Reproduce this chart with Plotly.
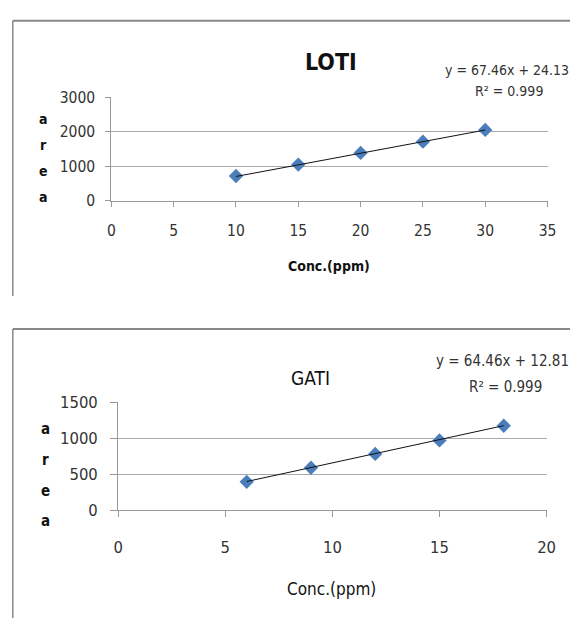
import plotly.graph_objects as go

# ---- data ----
loti_conc = [10, 15, 20, 25, 30]
loti_area = [712, 1045, 1382, 1710, 2052]
loti_slope, loti_intercept = 67.46, 24.13

gati_conc = [6, 9, 12, 15, 18]
gati_area = [395, 590, 782, 968, 1172]
gati_slope, gati_intercept = 64.46, 12.81

loti_yticks = [0, 1000, 2000, 3000]
loti_xticks = [0, 5, 10, 15, 20, 25, 30, 35]
gati_yticks = [0, 500, 1000, 1500]
gati_xticks = [0, 5, 10, 15, 20]

FONT = "DejaVu Sans Condensed, DejaVu Sans, sans-serif"
W, H = 579, 628
BLUE = "#4a7ebb"

def fx(px):
    return px / W

def fy(py):
    return 1 - py / H

def fnt(size, color="#333", weight="normal"):
    return dict(family=FONT, size=size, color=color, weight=weight)

fig = go.Figure()

# LOTI
fig.add_trace(go.Scatter(x=loti_conc, y=loti_area, mode="markers",
                         marker=dict(symbol="diamond", size=11, color=BLUE),
                         xaxis="x", yaxis="y", showlegend=False))
lx = [loti_conc[0], loti_conc[-1]]
fig.add_trace(go.Scatter(x=lx, y=[loti_slope * v + loti_intercept for v in lx], mode="lines",
                         line=dict(color="#111", width=1),
                         xaxis="x", yaxis="y", showlegend=False))
# GATI
fig.add_trace(go.Scatter(x=gati_conc, y=gati_area, mode="markers",
                         marker=dict(symbol="diamond", size=11, color=BLUE),
                         xaxis="x2", yaxis="y2", showlegend=False))
gx = [gati_conc[0], gati_conc[-1]]
fig.add_trace(go.Scatter(x=gx, y=[gati_slope * v + gati_intercept for v in gx], mode="lines",
                         line=dict(color="#111", width=1),
                         xaxis="x2", yaxis="y2", showlegend=False))

def ax(**kw):
    d = dict(showline=True, linecolor="#999", linewidth=1.2, ticks="outside",
             tickcolor="#999", zeroline=False, tickfont=fnt(15.5))
    d.update(kw)
    return d

fig.update_layout(
    width=W, height=H, margin=dict(l=0, r=0, t=0, b=0),
    paper_bgcolor="white", plot_bgcolor="white",
    xaxis=ax(domain=[fx(109), fx(556)], range=[0, 35], tickvals=loti_xticks,
             showgrid=False, anchor="y", ticklen=5, ticklabelstandoff=11),
    yaxis=ax(domain=[fy(197.5), fy(91)], range=[0, 3000], tickvals=loti_yticks,
             showgrid=True, gridcolor="#aaa", gridwidth=1.2, anchor="x",
             ticklen=5, ticklabelstandoff=7),
    xaxis2=ax(domain=[fx(116), fx(555)], range=[0, 20], tickvals=gati_xticks,
              showgrid=False, anchor="y2", ticklen=6, ticklabelstandoff=16,
              tickfont=fnt(16.5)),
    yaxis2=ax(domain=[fy(517), fy(405.3)], range=[0, 1500], tickvals=gati_yticks,
              showgrid=True, gridcolor="#aaa", gridwidth=1.2, anchor="x2",
              ticklen=7, ticklabelstandoff=9, tickfont=fnt(16.5)),
)

ann = []
def txt(x, y, s, size, bold=False, color="#111"):
    ann.append(dict(x=fx(x), y=fy(y), xref="paper", yref="paper", text=s,
                    showarrow=False, xanchor="center", yanchor="middle",
                    font=fnt(size, color, "bold" if bold else "normal")))

# LOTI texts
txt(334, 55, "LOTI", 23, bold=True)
txt(514, 63, "y = 67.46x + 24.13", 14, color="#333")
txt(516, 85, "R² = 0.999", 14, color="#333")
txt(332, 265, "Conc.(ppm)", 14, bold=True)
for ch, yy in zip("area", [113, 140, 167, 194]):
    txt(39, yy, ch, 14, bold=True)

# GATI texts
txt(313, 380, "GATI", 19)
txt(510, 363, "y = 64.46x + 12.81", 15, color="#333")
txt(513, 390, "R² = 0.999", 15, color="#333")
txt(335, 598, "Conc.(ppm)", 17)
for ch, yy in zip("area", [433, 465, 497, 528]):
    txt(42, yy, ch, 15, bold=True)

fig.update_layout(annotations=ann)

shapes = []
for (y0, y1) in [(12, 296), (330, 628)]:
    shapes.append(dict(type="line", xref="paper", yref="paper", x0=fx(8), x1=1.0,
                       y0=fy(y0), y1=fy(y0), line=dict(color="#888", width=2)))
    shapes.append(dict(type="line", xref="paper", yref="paper", x0=fx(8), x1=fx(8),
                       y0=fy(y0), y1=fy(y1), line=dict(color="#888", width=1.5)))
fig.update_layout(shapes=shapes)

post = ("document.documentElement.style.margin='0';document.documentElement.style.padding='0';"
        "document.body.style.margin='0';document.body.style.padding='0';document.body.style.overflow='hidden';"
        "var d=document.getElementById('{plot_id}');d.style.position='fixed';d.style.left='0px';d.style.top='0px';")
fig.write_html("out.html", config={"displayModeBar": False}, post_script=post)
